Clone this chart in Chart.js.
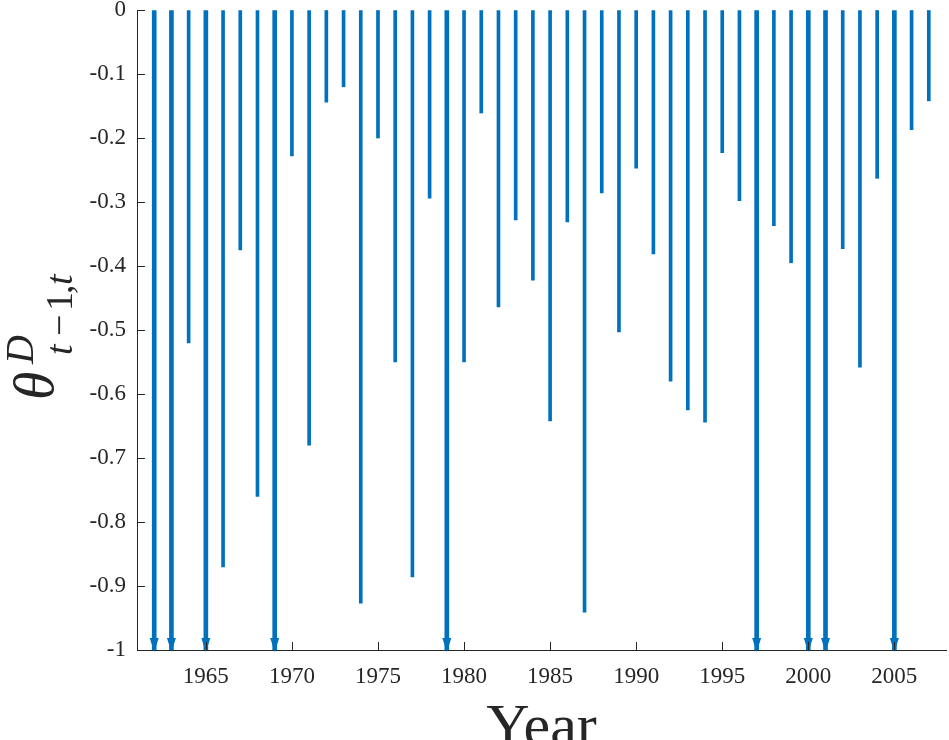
<!DOCTYPE html>
<html>
<head>
<meta charset="utf-8">
<script src="https://cdn.jsdelivr.net/npm/chart.js@4"></script>
<style>
  html, body { margin: 0; padding: 0; background: #fff; }
  #wrap { width: 949px; height: 740px; }
</style>
</head>
<body>
<div id="wrap"><canvas id="chartResult"></canvas></div>
<script>
// years on the x axis
var years = [1962,1963,1964,1965,1966,1967,1968,1969,1970,1971,1972,1973,1974,1975,1976,1977,
             1978,1979,1980,1981,1982,1983,1984,1985,1986,1987,1988,1989,1990,1991,1992,1993,
             1994,1995,1996,1997,1998,1999,2000,2001,2002,2003,2004,2005,2006,2007];
// theta^D_{t-1,t}; -1 means clipped at the axis (drawn with an arrow)
var theta = [-1,-1,-0.52,-1,-0.87,-0.375,-0.76,-1,-0.228,-0.68,-0.144,-0.12,-0.927,-0.2,-0.55,-0.886,
             -0.294,-1,-0.55,-0.161,-0.464,-0.328,-0.422,-0.642,-0.331,-0.941,-0.286,-0.503,-0.247,-0.381,-0.58,-0.625,
             -0.644,-0.223,-0.298,-1,-0.337,-0.395,-1,-1,-0.373,-0.558,-0.263,-1,-0.187,-0.142];
var xTicks = [1965,1970,1975,1980,1985,1990,1995,2000,2005];
var yTicks = [0,-0.1,-0.2,-0.3,-0.4,-0.5,-0.6,-0.7,-0.8,-0.9,-1];

var blue = '#0072BD';
var axisColor = '#262626';
var serif = "'Liberation Serif', 'DejaVu Serif', serif";

var stems = [], arrows = [];
years.forEach(function (y, i) {
    if (theta[i] <= -1) arrows.push({x: y, y: theta[i]});
    else stems.push({x: y, y: theta[i]});
});

// inward ticks, arrow heads and the math axis labels
var extras = {
    id: 'extras',
    afterDatasetsDraw: function (chart) {
        var ctx = chart.ctx, a = chart.chartArea;
        var xs = chart.scales.x, ys = chart.scales.y;
        ctx.save();
        // arrow heads
        ctx.fillStyle = blue;
        arrows.forEach(function (p) {
            var px = xs.getPixelForValue(p.x), py = ys.getPixelForValue(p.y);
            ctx.beginPath();
            ctx.moveTo(px, py + 2);
            ctx.lineTo(px - 4.5, py - 12);
            ctx.lineTo(px + 4.5, py - 12);
            ctx.closePath();
            ctx.fill();
        });
        // ticks pointing inward
        ctx.strokeStyle = axisColor;
        ctx.lineWidth = 1;
        ctx.beginPath();
        yTicks.forEach(function (v) {
            var py = Math.round(ys.getPixelForValue(v)) + 0.5;
            ctx.moveTo(a.left, py);
            ctx.lineTo(a.left + 8, py);
        });
        xTicks.forEach(function (v) {
            var px = Math.round(xs.getPixelForValue(v)) + 0.5;
            ctx.moveTo(px, a.bottom);
            ctx.lineTo(px, a.bottom - 8);
        });
        ctx.stroke();
        ctx.restore();
    },
    afterDraw: function (chart) {
        var ctx = chart.ctx, a = chart.chartArea;
        ctx.save();
        ctx.fillStyle = axisColor;
        ctx.textBaseline = 'alphabetic';
        // x label
        ctx.font = '60px ' + serif;
        ctx.textAlign = 'center';
        ctx.fillText('Year', (a.left + a.right) / 2, 745);
        // y label: theta^D_{t-1,t}, rotated
        ctx.textAlign = 'left';
        ctx.translate(53, 400);
        ctx.rotate(-Math.PI / 2);
        ctx.font = 'italic 58px ' + serif;
        ctx.fillText('\u03B8', 0, 0);
        ctx.font = 'italic 40px ' + serif;
        ctx.fillText('D', 36, -20);
        var sub = 19;
        ctx.font = 'italic 38px ' + serif;
        ctx.fillText('t', 45, sub);
        ctx.font = '38px ' + serif;
        ctx.fillText('\u2212', 64, sub);
        ctx.fillText('1', 89, sub);
        ctx.fillText(',', 106, sub);
        ctx.font = 'italic 38px ' + serif;
        ctx.fillText('t', 115, sub);
        ctx.restore();
    }
};

var canvasShow = document.getElementById('chartResult');

var mainChart = new Chart(canvasShow, {
    type: 'bar',
    data: {
        datasets: [{
            data: stems,
            backgroundColor: blue,
            barThickness: 3,
            grouped: false
        }, {
            data: arrows,
            backgroundColor: blue,
            barThickness: 4,
            grouped: false
        }]
    },
    options: {
        responsive: true,
        maintainAspectRatio: false,
        animation: false,
        layout: { padding: { left: 0, top: 10, right: 3, bottom: 0 } },
        plugins: { legend: { display: false }, tooltip: { enabled: false } },
        scales: {
            x: {
                type: 'linear',
                min: 1961,
                max: 2008,
                offset: false,
                afterBuildTicks: function (s) { s.ticks = xTicks.map(function (v) { return {value: v}; }); },
                afterFit: function (s) { s.height = 90; s.paddingLeft = 0; s.paddingRight = 0; },
                grid: { display: true, drawOnChartArea: false, drawTicks: false },
                border: { display: true, color: axisColor, width: 1 },
                ticks: {
                    padding: 13,
                    color: axisColor,
                    font: { family: serif, size: 23 },
                    maxRotation: 0,
                    autoSkip: false,
                    callback: function (v) { return String(v); }
                }
            },
            y: {
                min: -1,
                max: 0,
                afterBuildTicks: function (s) { s.ticks = yTicks.map(function (v) { return {value: v}; }); },
                afterFit: function (s) { s.width = 137; s.paddingTop = 0; s.paddingBottom = 0; },
                grid: { display: true, drawOnChartArea: false, drawTicks: false },
                border: { display: true, color: axisColor, width: 1 },
                ticks: {
                    padding: 11,
                    color: axisColor,
                    font: { family: serif, size: 23 },
                    callback: function (v) { return String(Math.round(v * 10) / 10); }
                }
            }
        }
    },
    plugins: [extras]
});
</script>
</body>
</html>
